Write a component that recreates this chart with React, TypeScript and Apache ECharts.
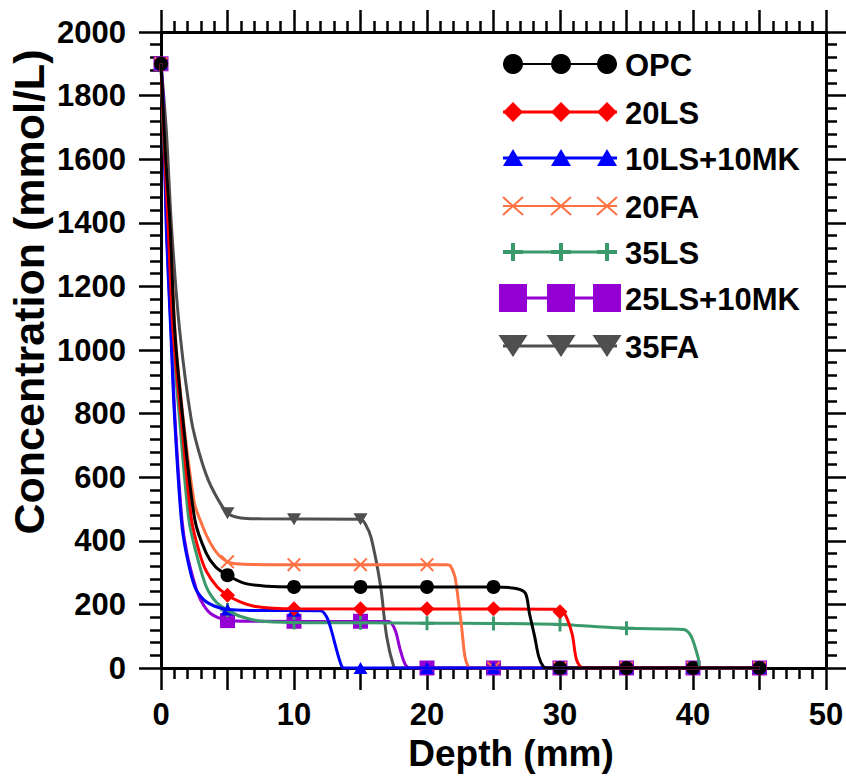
import React, { useEffect, useRef } from "react";
import * as echarts from "echarts";

// ---------- data ----------
const depthTicks = [0, 5, 10, 15, 20, 25, 30, 35, 40, 45];

const seriesNames = ["OPC", "20LS", "10LS+10MK", "20FA", "35LS", "25LS+10MK", "35FA"];

// marker values at depthTicks
const opcMarks = [1900, 292, 255, 255, 255, 255, 0, 0, 0, 0];
const ls20Marks = [1900, 229, 186, 186, 186, 186, 177, 0, 0, 0];
const ls10mk10Marks = [1900, 184, 180, 0, 0, 0, 0, 0, 0, 0];
const fa20Marks = [1900, 334, 325, 325, 325, 0, 0, 0, 0, 0];
const ls35Marks = [1900, 182, 143, 142, 141, 140, 137, 125, 0, 0];
const ls25mk10Marks = [1900, 149, 147, 147, 0, 0, 0, 0, 0, 0];
const fa35Marks = [1900, 487, 468, 468, 0, 0, 0, 0, 0, 0];

// fitted curves, points [depth, concentration]
const opcCurve = [
  [0, 1900], [0.3, 1640], [0.7, 1380], [1.03, 1063], [1.65, 780], [2.55, 465], [3.4, 361],
  [4.1, 318], [5, 292], [6.3, 266], [8, 257], [10, 255], [25, 255], [26.7, 250], [27.4, 235],
  [27.7, 172], [28.1, 98], [28.4, 36], [28.75, 4], [29, 0], [45, 0],
];
const ls20Curve = [
  [0, 1900], [0.25, 1640], [0.55, 1380], [0.9, 1063], [1.53, 780], [2.3, 465], [2.9, 361],
  [3.4, 305], [4.2, 256], [5, 229], [6, 207], [7, 194], [8.5, 188], [10, 186], [29.6, 185],
  [30.25, 177], [30.9, 109], [31.25, 25], [31.75, 0], [45, 0],
];
const ls10mk10Curve = [
  [0, 1900], [0.15, 1790], [0.4, 1380], [0.73, 1063], [1.03, 780], [1.53, 465], [1.9, 361],
  [2.53, 256], [3.2, 215], [4, 195], [5, 184], [7, 181], [12, 180], [12.45, 161], [12.8, 120],
  [13.2, 57], [13.6, 4], [13.8, 0], [45, 0],
];
const fa20Curve = [
  [0, 1900], [0.3, 1640], [0.7, 1380], [1.05, 1063], [1.68, 780], [2.5, 520], [2.9, 470],
  [3.5, 410], [4.2, 362], [5, 334], [6, 327], [8, 325], [21.5, 325], [21.75, 322], [22.1, 287],
  [22.35, 214], [22.6, 130], [22.85, 36], [23.1, 4], [23.3, 0], [45, 0],
];
const ls35Curve = [
  [0, 1900], [0.22, 1640], [0.52, 1380], [0.85, 1063], [1.4, 780], [2.1, 465], [2.65, 361],
  [3.4, 256], [4.2, 205], [5, 182], [6, 162], [7.4, 148], [10, 143], [15, 142], [20, 141],
  [25, 140], [30, 137], [32, 132], [35, 125], [38, 123], [39.3, 121], [39.8, 104], [40.15, 67],
  [40.4, 30], [40.6, 0], [45, 0],
];
const ls25mk10Curve = [
  [0, 1900], [0.16, 1790], [0.42, 1380], [0.76, 1063], [1.06, 780], [1.58, 465], [1.95, 361],
  [2.6, 256], [3, 212], [3.7, 172], [4.9, 151], [6.7, 147], [17.1, 146], [17.6, 120],
  [17.97, 60], [18.35, 12], [18.7, 0], [45, 0],
];
const fa35Curve = [
  [0, 1900], [0.4, 1690], [0.8, 1380], [1.4, 1063], [2.28, 780], [3.03, 654], [3.78, 570],
  [5, 487], [6, 472], [7.5, 469], [15, 468], [15.4, 450], [15.8, 410], [16.5, 260],
  [16.97, 98], [17.5, 4], [17.7, 0], [45, 0],
];

const yTicks = [0, 200, 400, 600, 800, 1000, 1200, 1400, 1600, 1800, 2000];
const xLabelTicks = [0, 10, 20, 30, 40, 50];

// ---------- styling ----------
const FONT = '"Liberation Sans", Arial, Helvetica, sans-serif';

const PATH_X = "path://M0,1L1,0L5,4L9,0L10,1L6,5L10,9L9,10L5,6L1,10L0,9L4,5Z";
const PATH_PLUS = "path://M3.95,0H6.05V3.95H10V6.05H6.05V10H3.95V6.05H0V3.95H3.95Z";
const PATH_DOWN = "path://M0,0H10L5,8.6Z";

type Spec = {
  name: string;
  color: string;
  marks: number[];
  curve: number[][];
  symbol: string;
  size: number | number[];
  kind: string;
  legendWidth: number;
};

const specs: Spec[] = [
  { name: seriesNames[0], color: "#000000", marks: opcMarks, curve: opcCurve, symbol: "circle", size: 14, kind: "circle", legendWidth: 2 },
  { name: seriesNames[1], color: "#ff0000", marks: ls20Marks, curve: ls20Curve, symbol: "diamond", size: 15, kind: "diamond", legendWidth: 3 },
  { name: seriesNames[2], color: "#0000ff", marks: ls10mk10Marks, curve: ls10mk10Curve, symbol: "triangle", size: [14, 12], kind: "triangle", legendWidth: 3 },
  { name: seriesNames[3], color: "#ff7043", marks: fa20Marks, curve: fa20Curve, symbol: PATH_X, size: 14, kind: "x", legendWidth: 2 },
  { name: seriesNames[4], color: "#3a9a6c", marks: ls35Marks, curve: ls35Curve, symbol: PATH_PLUS, size: 14, kind: "plus", legendWidth: 3 },
  { name: seriesNames[5], color: "#9400d3", marks: ls25mk10Marks, curve: ls25mk10Curve, symbol: "rect", size: 15, kind: "square", legendWidth: 3 },
  { name: seriesNames[6], color: "#4f4f4f", marks: fa35Marks, curve: fa35Curve, symbol: PATH_DOWN, size: [14, 12], kind: "down", legendWidth: 3 },
];

// drawing order bottom -> top
const drawOrder = [6, 5, 4, 3, 2, 1, 0];

function legendSymbol(kind: string, cx: number, cy: number, color: string): any {
  switch (kind) {
    case "circle":
      return { type: "circle", shape: { cx, cy, r: 10 }, style: { fill: color } };
    case "diamond":
      return { type: "polygon", shape: { points: [[cx, cy - 10], [cx + 10, cy], [cx, cy + 10], [cx - 10, cy]] }, style: { fill: color } };
    case "triangle":
      return { type: "polygon", shape: { points: [[cx, cy - 9], [cx + 10, cy + 8], [cx - 10, cy + 8]] }, style: { fill: color } };
    case "x":
      return {
        type: "group",
        children: [
          { type: "line", shape: { x1: cx - 10, y1: cy - 9, x2: cx + 10, y2: cy + 9 }, style: { stroke: color, lineWidth: 2 } },
          { type: "line", shape: { x1: cx - 10, y1: cy + 9, x2: cx + 10, y2: cy - 9 }, style: { stroke: color, lineWidth: 2 } },
        ],
      };
    case "plus":
      return {
        type: "group",
        children: [
          { type: "line", shape: { x1: cx - 10, y1: cy, x2: cx + 10, y2: cy }, style: { stroke: color, lineWidth: 4 } },
          { type: "line", shape: { x1: cx, y1: cy - 9, x2: cx, y2: cy + 9 }, style: { stroke: color, lineWidth: 4 } },
        ],
      };
    case "square":
      return { type: "rect", shape: { x: cx - 14, y: cy - 14, width: 28, height: 28 }, style: { fill: color } };
    case "down":
      return { type: "polygon", shape: { points: [[cx - 14.5, cy - 11], [cx + 14.5, cy - 11], [cx, cy + 11]] }, style: { fill: color } };
  }
  return null;
}

function buildOption(): any {
  const axisCommon = {
    axisLine: { show: true, onZero: false, lineStyle: { color: "#000", width: 3 } },
    axisTick: { show: true, inside: false, length: 22, lineStyle: { color: "#000", width: 2.5 } },
    minorTick: { show: true, splitNumber: 5, length: 11, lineStyle: { color: "#000", width: 2.5 } },
    splitLine: { show: false },
    minorSplitLine: { show: false },
  };
  const labelStyle = { fontSize: 31, fontWeight: "bold", fontFamily: FONT, color: "#000" };

  const series: any[] = [];
  drawOrder.forEach((idx) => {
    const s = specs[idx];
    series.push({
      type: "line",
      name: s.name,
      data: s.curve,
      symbol: "none",
      showSymbol: false,
      smooth: 0.3,
      lineStyle: { color: s.color, width: 3 },
      silent: true,
      clip: true,
    });
    series.push({
      type: "scatter",
      name: s.name,
      data: depthTicks.map((d, i) => [d, s.marks[i]]),
      symbol: s.symbol,
      symbolSize: s.size,
      itemStyle: { color: s.color, opacity: 1 },
      silent: true,
      clip: false,
    });
  });

  const rowY = [64, 112, 158, 206, 252, 298, 346];
  const symX = [513, 561, 607];
  const elements: any[] = [];
  specs.forEach((s, i) => {
    const y = rowY[i];
    elements.push({ type: "line", shape: { x1: 503, y1: y, x2: 617, y2: y }, style: { stroke: s.color, lineWidth: s.legendWidth } });
    symX.forEach((x) => elements.push(legendSymbol(s.kind, x, y, s.color)));
    elements.push({
      type: "text",
      x: 625,
      y: y + 1,
      style: { text: s.name, fontSize: 31, fontWeight: "bold", fontFamily: FONT, fill: "#000", align: "left", verticalAlign: "middle" },
    });
  });
  elements.push({
    type: "text",
    x: 511,
    y: 753,
    style: { text: "Depth (mm)", fontSize: 37, fontWeight: "bold", fontFamily: FONT, fill: "#000", align: "center", verticalAlign: "middle" },
  });
  elements.push({
    type: "text",
    x: 29,
    y: 292,
    rotation: Math.PI / 2,
    style: { text: "Concentration (mmol/L)", fontSize: 43, fontWeight: "bold", fontFamily: FONT, fill: "#000", align: "center", verticalAlign: "middle" },
  });

  return {
    animation: false,
    backgroundColor: "#ffffff",
    grid: { left: 161, right: 20, top: 32, bottom: 108, containLabel: false, outerBoundsMode: "none" },
    xAxis: [
      {
        type: "value", position: "bottom", min: xLabelTicks[0], max: xLabelTicks[xLabelTicks.length - 1], interval: 5,
        ...axisCommon,
        axisLabel: { show: true, margin: 31, ...labelStyle, formatter: (v: number) => (xLabelTicks.indexOf(v) >= 0 ? String(v) : "") },
      },
      {
        type: "value", position: "top", min: xLabelTicks[0], max: xLabelTicks[xLabelTicks.length - 1], interval: 5,
        ...axisCommon,
        axisLabel: { show: false },
      },
    ],
    yAxis: [
      {
        type: "value", position: "left", min: yTicks[0], max: yTicks[yTicks.length - 1], interval: 200,
        ...axisCommon,
        axisLabel: { show: true, margin: 35, ...labelStyle, formatter: (v: number) => String(v) },
      },
      {
        type: "value", position: "right", min: yTicks[0], max: yTicks[yTicks.length - 1], interval: 200,
        ...axisCommon,
        axisLabel: { show: false },
      },
    ],
    series,
    graphic: { elements },
  };
}

export default function App() {
  const ref = useRef<HTMLDivElement>(null);
  useEffect(() => {
    if (!ref.current) return;
    const chart = echarts.init(ref.current, null, { renderer: "svg" });
    chart.setOption(buildOption());
    return () => chart.dispose();
  }, []);
  return (
    <div
      ref={ref}
      style={{ position: "absolute", left: 0, top: 0, width: 846, height: 776, background: "#fff" }}
    />
  );
}
